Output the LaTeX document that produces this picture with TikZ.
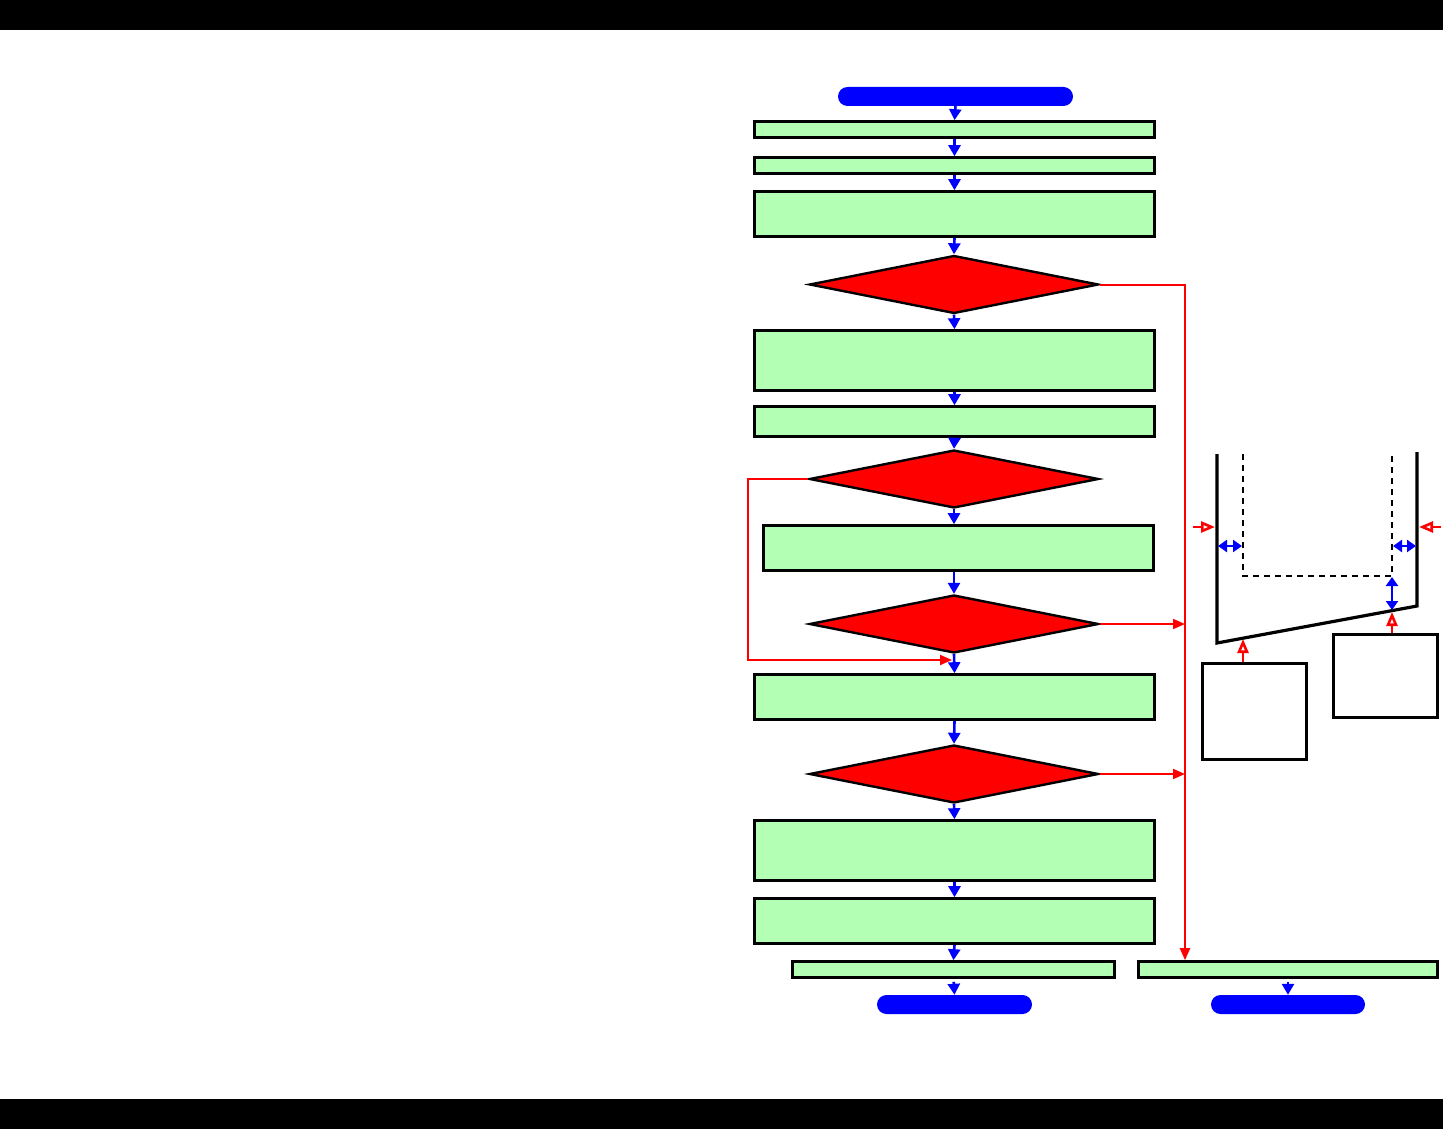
\documentclass[tikz,border=0pt]{standalone}
\usepackage{xcolor}
\definecolor{fluxBleu}{HTML}{0000FF}
\definecolor{fluxRouge}{HTML}{FF0000}
\definecolor{fondVert}{HTML}{B3FFB3}
\usepackage{tikz}
\usetikzlibrary{arrows.meta, shapes.geometric}
\tikzset{
  %% ── Boxes ────────────────────────────────────────────────────────────
  %% Steps are green, tests are red diamonds, the ends are blue capsules;
  %% the white frames belong to the sketch on the right.
  etape/.style      = {draw=black, line width=2.6pt, fill=fondVert,
                       inner sep=0pt, minimum width=400pt},
  test/.style       = {diamond, draw=black, line width=2.4pt, fill=fluxRouge,
                       inner sep=0pt, minimum width=289pt, minimum height=58pt},
  capsule/.style    = {fill=fluxBleu, rounded corners=9.5pt, inner sep=0pt,
                       minimum height=19pt},
  cadre/.style      = {draw=black, line width=2.6pt, fill=white,
                       inner sep=0pt, minimum width=104pt},
  %%
  %% ── Arrows ───────────────────────────────────────────────────────────
  %% Blue is the normal flow, red the way out after a failed test.
  fleche/.style     = {-{Triangle[length=11pt, width=12pt]}, draw=fluxBleu,
                       line width=2.6pt},
  flecheRouge/.style = {-{Triangle[length=12pt, width=10pt]},
                       draw=fluxRouge, line width=2pt},
  flecheOuverte/.style = {-{Triangle[open, length=14pt, width=11pt, fill=white]},
                       draw=fluxRouge, line width=2.6pt},
  cote/.style       = {{Triangle[length=9pt, width=12pt]}-{Triangle[length=9pt, width=12pt]},
                       draw=fluxBleu, line width=2.6pt},
  %%
  %% ── Sketch ───────────────────────────────────────────────────────────
  paroi/.style      = {draw=black, line width=3.2pt},
  gabarit/.style    = {draw=black, line width=2.2pt, dash pattern=on 6pt off 5pt},
}

\begin{document}
\begin{tikzpicture}[x=1pt, y=-1pt]

\useasboundingbox (0,0) rectangle (1443,1129);
\fill[black] (0,0) rectangle (1443,30);
\fill[black] (0,1099) rectangle (1443,1129);

\node[capsule, minimum width=235pt] (deb) at (955.5, 96.5) {};

\node[etape, minimum height=16pt] (p1) at (954.5, 129.5) {};
\node[etape, minimum height=16pt] (p2) at (954.5, 165.5) {};
\node[etape, minimum height=45pt] (p3) at (954.5, 214) {};
\node[test] (q1) at (954, 284.5) {};
\node[etape, minimum height=60pt] (p4) at (954.5, 360.5) {};
\node[etape, minimum height=30pt] (p5) at (954.5, 421.5) {};
\node[test] (q2) at (954, 479) {};
\node[etape, minimum width=390pt, minimum height=45pt] (p6) at (958.5, 548) {};
\node[test] (q3) at (954, 624) {};
\node[etape, minimum height=45pt] (p7) at (954.5, 697) {};
\node[test] (q4) at (954, 774) {};
\node[etape, minimum height=60pt] (p8) at (954.5, 850.5) {};
\node[etape, minimum height=45pt] (p9) at (954.5, 921) {};

\node[etape, minimum width=322pt, minimum height=16pt] (pA) at (953.5, 969.5) {};
\node[etape, minimum width=299pt, minimum height=16pt] (pB) at (1288, 969.5) {};

\node[capsule, minimum width=155pt] (fin) at (954.5, 1004.5) {};
\node[capsule, minimum width=154pt] (abandon) at (1288, 1004.5) {};

\coordinate (rail) at (1185, 284.5);
\coordinate (retour) at (748, 660);
\coordinate (jonction) at (952, 660);

\draw[fleche] (deb.south) -- (p1.north);
\draw[fleche] (p1.south) -- (p2.north);
\draw[fleche] (p2.south) -- (p3.north);
\draw[fleche] (p3.south) -- (q1.north);
\draw[fleche] (q1.south) -- (p4.north);
\draw[fleche] (p4.south) -- (p5.north);
\draw[fleche] (p5.south) -- (q2.north);
\draw[fleche] (q2.south) -- (q2.south |- p6.north);
\draw[fleche] (p6.south -| q3.north) -- (q3.north);
\draw[fleche] (q3.south) -- (p7.north);
\draw[fleche] (p7.south) -- (q4.north);
\draw[fleche] (q4.south) -- (p8.north);
\draw[fleche] (p8.south) -- (p9.north);
\draw[fleche] (p9.south) -- (pA.north);
\draw[fleche, shorten <=3pt] (pA.south) -- (fin.north);
\draw[fleche, shorten <=3pt] (pB.south) -- (abandon.north);

\draw[flecheRouge] (q1.east) -| (pB.north -| rail);
\draw[flecheRouge] (q3.east) -- (rail |- q3.east);
\draw[flecheRouge] (q4.east) -- (rail |- q4.east);
\draw[flecheRouge] (q2.west) -| (retour) -- (jonction);

\draw[paroi] (1217, 454) -- (1217, 643) -- (1417, 606) -- (1417, 452);
\draw[gabarit] (1243, 454) -- (1243, 576) -- (1392, 576) -- (1392, 452);

\coordinate (fondG) at (1243, 639);
\coordinate (fondD) at (1392, 612);
\coordinate (flancG) at (1215, 527);
\coordinate (flancD) at (1419, 527);

\draw[cote] (1218, 546) -- (1242, 546);
\draw[cote] (1393, 546) -- (1416, 546);
\draw[cote] (1392, 577) -- (1392, 610);

\node[cadre, minimum height=96pt] (boiteG) at (1254.5, 711.5) {};
\node[cadre, minimum height=83pt] (boiteD) at (1385.5, 676) {};

\draw[flecheOuverte] (1193, 527) -- (flancG);
\draw[flecheOuverte] (1441, 527) -- (flancD);
\draw[flecheOuverte] (boiteG.north -| fondG) -- (fondG);
\draw[flecheOuverte] (boiteD.north -| fondD) -- (fondD);

\end{tikzpicture}
\end{document}
